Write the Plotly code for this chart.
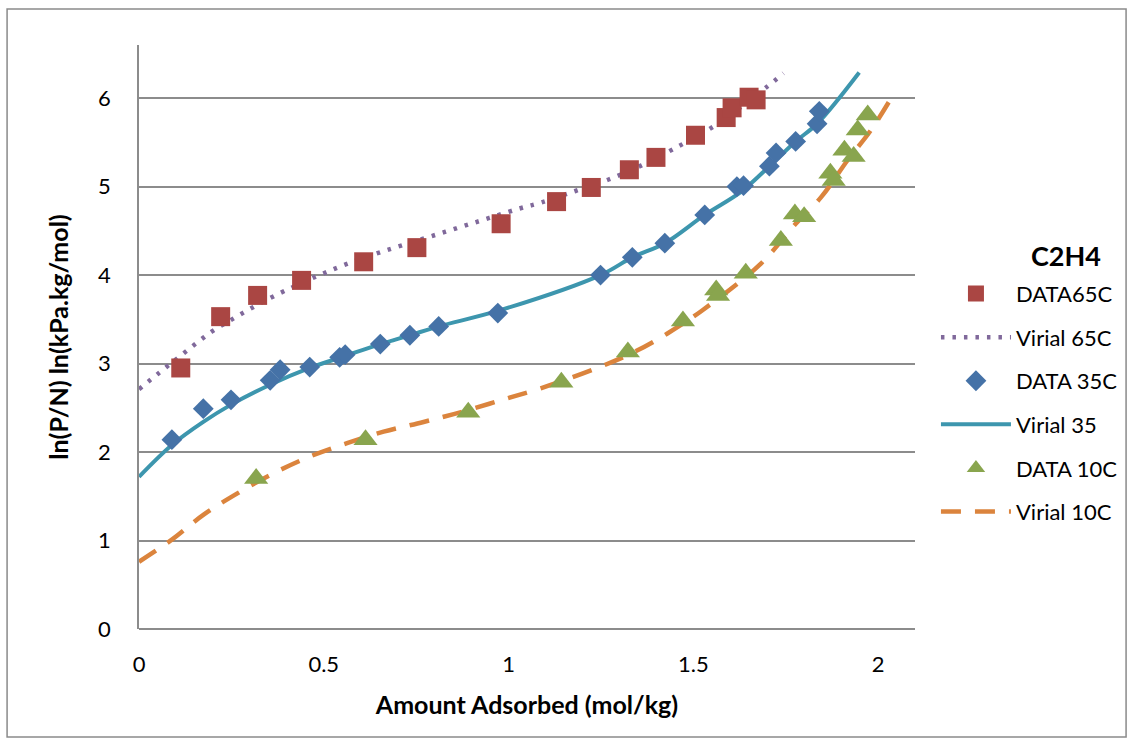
import plotly.graph_objects as go

# Measured isotherm points, ln(P/N) vs amount adsorbed
n_65c = [0.113, 0.221, 0.321, 0.440, 0.608, 0.752, 0.980, 1.130, 1.224, 1.327,
         1.399, 1.506, 1.589, 1.605, 1.651, 1.670]
lnpn_65c = [2.95, 3.53, 3.77, 3.94, 4.15, 4.31, 4.58, 4.83, 4.99, 5.19,
            5.33, 5.58, 5.78, 5.89, 6.01, 5.98]

n_35c = [0.089, 0.174, 0.249, 0.355, 0.382, 0.462, 0.543, 0.558, 0.653, 0.733,
         0.811, 0.971, 1.249, 1.335, 1.423, 1.531, 1.618, 1.636, 1.706, 1.724,
         1.777, 1.835, 1.841]
lnpn_35c = [2.14, 2.49, 2.59, 2.81, 2.93, 2.96, 3.07, 3.10, 3.22, 3.32,
            3.42, 3.57, 4.00, 4.20, 4.36, 4.68, 5.00, 5.01, 5.23, 5.38,
            5.51, 5.71, 5.85]

n_10c = [0.317, 0.613, 0.891, 1.143, 1.323, 1.472, 1.562, 1.567, 1.642, 1.737,
         1.775, 1.800, 1.871, 1.880, 1.909, 1.934, 1.945, 1.972]
lnpn_10c = [1.70, 2.14, 2.45, 2.79, 3.13, 3.48, 3.83, 3.77, 4.02, 4.39,
            4.69, 4.66, 5.15, 5.07, 5.41, 5.34, 5.64, 5.81]

# Virial fits
vir_n_65c = [0.0, 0.05, 0.098, 0.149, 0.200, 0.256, 0.310, 0.369, 0.483, 0.572,
             0.662, 0.784, 0.906, 1.028, 1.089, 1.181, 1.271, 1.360, 1.444,
             1.555, 1.694, 1.744]
vir_y_65c = [2.71, 2.88, 3.04, 3.21, 3.37, 3.51, 3.64, 3.77, 3.99, 4.14,
             4.27, 4.43, 4.59, 4.75, 4.82, 4.95, 5.08, 5.24, 5.42,
             5.68, 6.11, 6.28]

vir_n_35c = [0.0, 0.089, 0.174, 0.247, 0.355, 0.462, 0.554, 0.653, 0.733, 0.811,
             0.975, 1.249, 1.335, 1.423, 1.531, 1.629, 1.706, 1.777, 1.835, 1.949]
vir_y_35c = [1.72, 2.08, 2.34, 2.53, 2.76, 2.95, 3.08, 3.22, 3.32, 3.42,
             3.60, 4.00, 4.20, 4.36, 4.68, 4.94, 5.23, 5.51, 5.71, 6.29]

vir_n_10c = [0.0, 0.089, 0.174, 0.265, 0.364, 0.463, 0.563, 0.662, 0.770, 0.879,
             0.983, 1.087, 1.240, 1.340, 1.430, 1.524, 1.683, 1.773, 1.846,
             1.918, 1.981, 2.037]
vir_y_10c = [0.76, 1.01, 1.29, 1.53, 1.76, 1.95, 2.10, 2.23, 2.34, 2.46,
             2.59, 2.72, 2.95, 3.13, 3.34, 3.60, 4.13, 4.56, 4.88,
             5.30, 5.64, 6.01]

x_ticks = [0, 0.5, 1, 1.5, 2]
x_tick_text = ["0", "0.5", "1", "1.5", "2"]
y_ticks = [0, 1, 2, 3, 4, 5, 6]
legend_heading = "C2H4"

FONT = "Lato"
GRID = "#8c8c8c"

line_traces = [
    go.Scatter(
        x=vir_n_65c, y=vir_y_65c, mode="lines", name="Virial 65C",
        legendgroup="b", legendrank=2,
        line=dict(color="#80699B", width=4.5, dash="3.5px,8px", shape="spline"),
    ),
    go.Scatter(
        x=vir_n_35c, y=vir_y_35c, mode="lines", name="Virial 35",
        legendgroup="d", legendrank=4,
        line=dict(color="#3D96AE", width=4, shape="spline"),
    ),
    go.Scatter(
        x=vir_n_10c, y=vir_y_10c, mode="lines", name="Virial 10C",
        legendgroup="f", legendrank=6,
        line=dict(color="#DB843D", width=4.5, dash="20px,14px", shape="spline"),
    ),
]
marker_traces = [
    go.Scatter(
        x=n_65c, y=lnpn_65c, mode="markers", name="DATA65C",
        legendgroup="a", legendrank=1,
        marker=dict(symbol="square", size=19, color="#AA4643"),
    ),
    go.Scatter(
        x=n_35c, y=lnpn_35c, mode="markers", name="DATA 35C",
        legendgroup="c", legendrank=3,
        marker=dict(symbol="diamond", size=16, color="#4572A7"),
    ),
    go.Scatter(
        x=n_10c, y=lnpn_10c, mode="markers", name="DATA 10C",
        legendgroup="e", legendrank=5,
        marker=dict(symbol="triangle-up", size=21, color="#89A54E"),
    ),
]

# Fit lines first so the measured markers sit on top
fig = go.Figure(data=line_traces + marker_traces)

fig.update_layout(
    width=1129, height=740,
    margin=dict(l=139, r=214, t=45, b=111, autoexpand=False),
    paper_bgcolor="white", plot_bgcolor="white",
    font=dict(family=FONT, size=22, color="black"),
    showlegend=True,
    legend=dict(
        x=1.027, y=0.610, xanchor="left", yanchor="top",
        font=dict(size=22),
        itemwidth=70,
        traceorder="grouped",
        tracegroupgap=12,
        bgcolor="rgba(0,0,0,0)",
    ),
    annotations=[dict(
        text=f"<b>{legend_heading}</b>", xref="paper", yref="paper",
        x=1.1946, y=0.640, xanchor="center", yanchor="middle",
        showarrow=False, font=dict(size=27),
    )],
    xaxis=dict(
        range=[0, 2.1], tickvals=x_ticks, ticktext=x_tick_text,
        showgrid=False, zeroline=False,
        showline=False,
        ticks="outside", ticklen=16, tickcolor="rgba(0,0,0,0)",
        tickfont=dict(size=22),
        title=dict(text="<b>Amount Adsorbed (mol/kg)</b>", font=dict(size=25), standoff=20),
    ),
    yaxis=dict(
        range=[0, 6.6], tickvals=y_ticks,
        showgrid=True, gridcolor=GRID, gridwidth=1.5,
        zeroline=True, zerolinecolor=GRID, zerolinewidth=1.5,
        showline=True, linecolor=GRID, linewidth=1.5,
        ticks="outside", ticklen=22, tickcolor="rgba(0,0,0,0)",
        tickfont=dict(size=22),
        title=dict(text="<b>ln(P/N) ln(kPa.kg/mol)</b>", font=dict(size=25), standoff=22),
    ),
    shapes=[dict(
        type="rect", xref="paper", yref="paper",
        x0=-0.170, x1=1.272, y0=-0.185, y1=1.0616,
        line=dict(color="#8a8a8a", width=1.5), fillcolor="rgba(0,0,0,0)",
        layer="below",
    )],
)

fig.write_html("out.html")
